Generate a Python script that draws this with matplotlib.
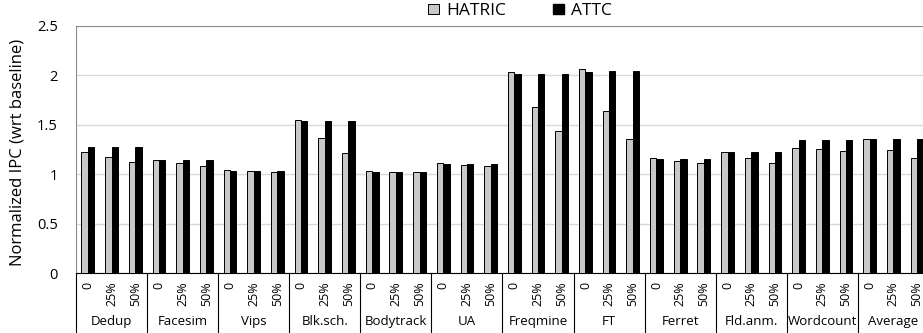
import matplotlib
matplotlib.use('Agg')
import matplotlib.pyplot as plt
from matplotlib.patches import Patch
import numpy as np

plt.rcParams['font.family'] = ['Open Sans', 'DejaVu Sans']

benchmarks = ['Dedup', 'Facesim', 'Vips', 'Blk.sch.', 'Bodytrack', 'UA',
              'Freqmine', 'FT', 'Ferret', 'Fld.anm.', 'Wordcount', 'Average']
levels = ['0', '25%', '50%']

# values per benchmark: [0, 25%, 50%]
hatric = [
    [1.23, 1.18, 1.13],   # Dedup
    [1.15, 1.11, 1.08],   # Facesim
    [1.04, 1.03, 1.025],  # Vips
    [1.55, 1.365, 1.215], # Blk.sch.
    [1.03, 1.025, 1.02],  # Bodytrack
    [1.11, 1.09, 1.08],   # UA
    [2.04, 1.685, 1.435], # Freqmine
    [2.07, 1.64, 1.355],  # FT
    [1.165, 1.14, 1.12],  # Ferret
    [1.23, 1.165, 1.11],  # Fld.anm.
    [1.27, 1.255, 1.24],  # Wordcount
    [1.355, 1.245, 1.165] # Average
]
attc = [
    [1.28, 1.28, 1.28],
    [1.145, 1.145, 1.145],
    [1.037, 1.037, 1.037],
    [1.535, 1.535, 1.535],
    [1.028, 1.028, 1.028],
    [1.10, 1.10, 1.10],
    [2.015, 2.015, 2.015],
    [2.04, 2.045, 2.045],
    [1.16, 1.16, 1.16],
    [1.225, 1.225, 1.225],
    [1.345, 1.345, 1.345],
    [1.355, 1.355, 1.36]
]

h_vals = np.array(hatric).ravel()
a_vals = np.array(attc).ravel()
x = np.arange(len(h_vals))
w = 0.27

fig = plt.figure(figsize=(9.23, 3.33), dpi=100)
ax = fig.add_axes([76 / 923, 59.7 / 333, 847 / 923, 247.3 / 333])

ax.bar(x - w / 2, h_vals, w, color='#c8c8c8', edgecolor='black', linewidth=0.7, zorder=3)
ax.bar(x + w / 2, a_vals, w, color='black', edgecolor='black', linewidth=0.7, zorder=3)

ax.set_ylim(0, 2.5)
ax.set_yticks([0, 0.5, 1, 1.5, 2, 2.5])
ax.set_yticklabels(['0', '0.5', '1', '1.5', '2', '2.5'])
ax.set_xlim(-0.5, 35.25)
ax.yaxis.grid(True, color='#d9d9d9', linewidth=1)
ax.set_axisbelow(True)

ax.set_xticks(x)
ax.set_xticklabels(levels * len(benchmarks), rotation=90, fontsize=9)
ax.tick_params(axis='x', length=0, pad=6)
ax.tick_params(axis='y', length=0, pad=13, labelsize=10.5)

for s in ['left', 'top']:
    ax.spines[s].set_color('#8c8c8c')
ax.spines['right'].set_visible(False)
ax.spines['bottom'].set_color('black')

ax.set_ylabel('Normalized IPC (wrt baseline)', fontsize=12)
ax.yaxis.set_label_coords(-0.060, 0.49)

# group separators and labels
trans = ax.get_xaxis_transform()
for k, name in enumerate(benchmarks):
    xb = 3 * k - 0.5
    ax.plot([xb, xb], [0, -0.26], color='black', linewidth=0.8,
            transform=trans, clip_on=False)
    ax.text(3 * k + 1, -0.193, name, transform=trans, ha='center', va='center',
            fontsize=9.5)

handles = [Patch(facecolor='#c8c8c8', edgecolor='black', linewidth=0.7, label='HATRIC'),
           Patch(facecolor='black', edgecolor='black', label='ATTC')]
fig.legend(handles=handles, loc='center', bbox_to_anchor=(0.5635, 0.967), ncol=2,
           frameon=False, fontsize=12.5, handlelength=0.65, handleheight=0.55,
           handletextpad=0.4, columnspacing=2.7, borderpad=0)

fig.savefig('out.png', dpi=100)
